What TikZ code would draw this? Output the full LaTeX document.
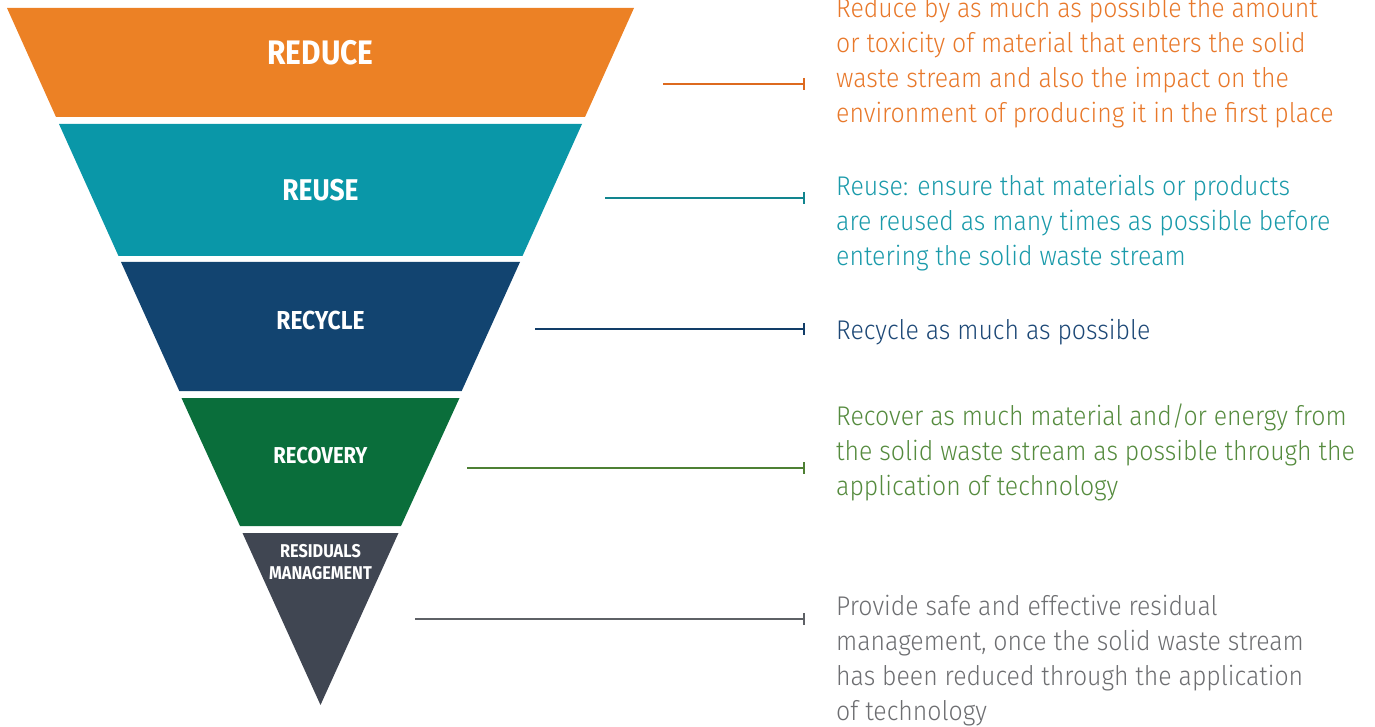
\documentclass[tikz,border=0pt]{standalone}
\usepackage{fontspec}
\setmainfont{Fira Sans}
\newfontfamily\descfont{Fira Sans Light}[FakeStretch=0.92]
\newfontfamily\labfont{Fira Sans}[FakeStretch=0.88]
\usetikzlibrary{arrows.meta}
\definecolor{cReduce}{HTML}{EC8125}
\definecolor{cReuse}{HTML}{0A97A8}
\definecolor{cRecycle}{HTML}{124470}
\definecolor{cRecovery}{HTML}{0A6E3B}
\definecolor{cResidual}{HTML}{404652}
\definecolor{tReduce}{HTML}{E8782A}
\definecolor{tReuse}{HTML}{1A9AAA}
\definecolor{tRecycle}{HTML}{1D4876}
\definecolor{tRecovery}{HTML}{558B3E}
\definecolor{tResidual}{HTML}{6D6E71}
\definecolor{lReduce}{HTML}{DD6A1F}
\definecolor{lReuse}{HTML}{12858F}
\definecolor{lRecycle}{HTML}{123D68}
\definecolor{lRecovery}{HTML}{4E8034}
\definecolor{lResidual}{HTML}{5E6166}
\begin{document}
\begin{tikzpicture}[x=1pt,y=-1pt,
  lab/.style={text=white,inner sep=0pt,align=center},
  desc/.style={anchor=north west,inner sep=0pt,align=left,
    font=\descfont\fontsize{27}{35.2}\selectfont},
  lead/.style={line width=2.5pt,-{Bar[width=12pt,line width=2.5pt]}},
]
\useasboundingbox (0,0) rectangle (1375,727);
% bands
\fill[cReduce] (7,8) -- (634,8) -- (585,117) -- (56,117) -- cycle;
\fill[cReuse] (59,124) -- (582,124) -- (522.5,256) -- (118.5,256) -- cycle;
\fill[cRecycle] (121,262) -- (520,262) -- (461.7,391) -- (179.3,391) -- cycle;
\fill[cRecovery] (181.5,398) -- (459.5,398) -- (401,526) -- (240,526) -- cycle;
\fill[cResidual] (242.5,533) -- (398.5,533) -- (320.5,705) -- cycle;
% labels
\node[lab,font=\labfont\bfseries\fontsize{34}{40}\selectfont] (nReduce) at (320.5,53) {REDUCE};
\node[lab,font=\labfont\bfseries\fontsize{30}{34}\selectfont] (nReuse) at (320.5,190) {REUSE};
\node[lab,font=\labfont\bfseries\fontsize{26}{34}\selectfont] (nRecycle) at (320.5,320) {RECYCLE};
\node[lab,font=\labfont\bfseries\fontsize{23}{28}\selectfont] (nRecovery) at (320.5,456) {RECOVERY};
\node[lab,font=\labfont\bfseries\fontsize{18.5}{22}\selectfont] (nResidual) at (320.5,562) {RESIDUALS\\MANAGEMENT};
% connector coordinates
\coordinate (s1) at (663,84);  \coordinate (e1) at (805,84);
\coordinate (s2) at (605,198); \coordinate (e2) at (805,198);
\coordinate (s3) at (535,329); \coordinate (e3) at (805,329);
\coordinate (s4) at (467,468); \coordinate (e4) at (805,468);
\coordinate (s5) at (415,619); \coordinate (e5) at (805,619);
\draw[lead,lReduce] (s1) -- (e1);
\draw[lead,lReuse] (s2) -- (e2);
\draw[lead,lRecycle] (s3) -- (e3);
\draw[lead,lRecovery] (s4) -- (e4);
\draw[lead,lResidual] (s5) -- (e5);
% descriptions
\node[desc,text=tReduce] (dReduce) at (836,-13) {\rule{0pt}{30pt}Reduce by as much as possible the amount\\or toxicity of material that enters the solid\\waste stream and also the impact on the\\environment of producing it in the first place};
\node[desc,text=tReuse] (dReuse) at (836,165) {\rule{0pt}{30pt}Reuse: ensure that materials or products\\are reused as many times as possible before\\entering the solid waste stream};
\node[desc,text=tRecycle] (dRecycle) at (836,309) {\rule{0pt}{30pt}Recycle as much as possible};
\node[desc,text=tRecovery] (dRecovery) at (836,395) {\rule{0pt}{30pt}Recover as much material and/or energy from\\the solid waste stream as possible through the\\application of technology};
\node[desc,text=tResidual] (dResidual) at (836,585) {\rule{0pt}{30pt}Provide safe and effective residual\\management, once the solid waste stream\\has been reduced through the application\\of technology};
\end{tikzpicture}
\end{document}
